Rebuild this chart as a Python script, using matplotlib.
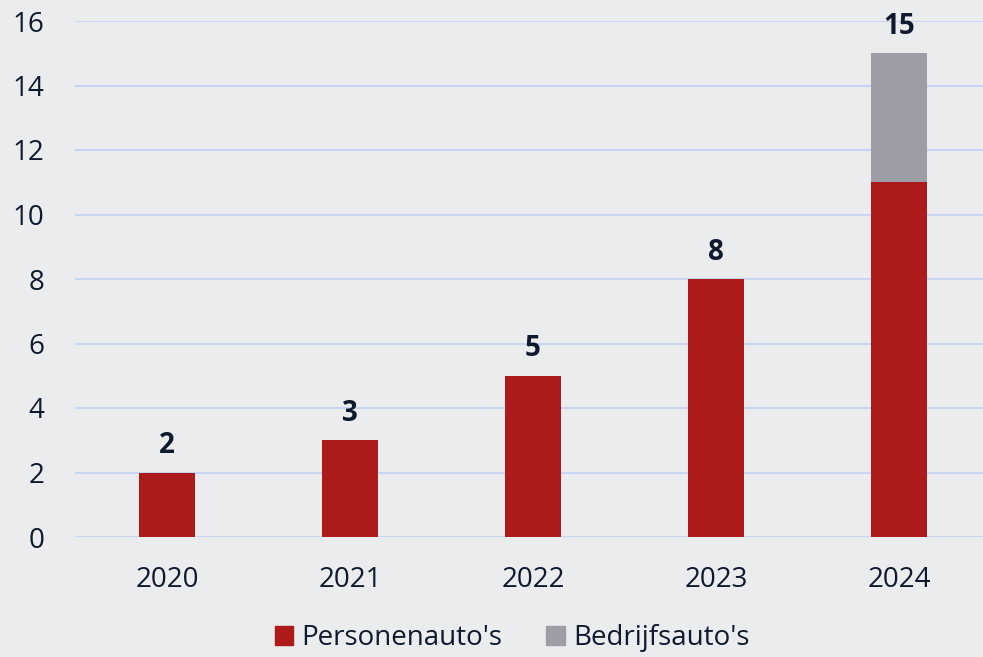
import matplotlib
matplotlib.use("Agg")
import matplotlib.pyplot as plt
from matplotlib.patches import Patch

years = ["2020", "2021", "2022", "2023", "2024"]
personenautos = [2, 3, 5, 8, 11]
bedrijfsautos = [0, 0, 0, 0, 4]
totals = [2, 3, 5, 8, 15]
yticks = [0, 2, 4, 6, 8, 10, 12, 14, 16]

plt.rcParams['font.family'] = ['Open Sans', 'DejaVu Sans']

BG = "#EBECEE"
RED = "#AD1A1A"
GRAY = "#9D9EA5"
GRID = "#C6D5F3"
TXT = "#0F1A2E"

W, H = 983, 657
fig = plt.figure(figsize=(W/100, H/100), dpi=100, facecolor=BG)
ax = fig.add_axes([75/W, 1-537/H, (983-75)/W, (537-21)/H], facecolor=BG)

x = list(range(len(years)))
ax.bar(x, personenautos, width=0.31, color=RED, zorder=3)
ax.bar(x, bedrijfsautos, width=0.31, bottom=personenautos, color=GRAY, zorder=3)

for xi, t in zip(x, totals):
    ax.text(xi, t + 0.38, str(t), ha="center", va="bottom", fontsize=20,
            fontweight="bold", color=TXT, clip_on=False)

ax.set_xlim(-0.503, 4.459)
ax.set_ylim(0, 16)
ax.set_yticks(yticks)
ax.set_xticks(x)
ax.set_xticklabels(years)
ax.tick_params(axis="both", length=0, labelsize=20, labelcolor=TXT)
ax.tick_params(axis="y", pad=22)
ax.tick_params(axis="x", pad=21)
ax.grid(axis="y", color=GRID, linewidth=1.5, zorder=0)
for s in ax.spines.values():
    s.set_visible(False)

handles = [Patch(color=RED, label="Personenauto's"), Patch(color=GRAY, label="Bedrijfsauto's")]
fig.legend(handles=handles, loc="center", bbox_to_anchor=(512/W, 1-638/H), ncol=2,
           frameon=False, fontsize=20, labelcolor=TXT, handlelength=0.65, handleheight=0.65,
           handletextpad=0.3, columnspacing=1.6)

fig.savefig("out.png", dpi=100, facecolor=BG)
